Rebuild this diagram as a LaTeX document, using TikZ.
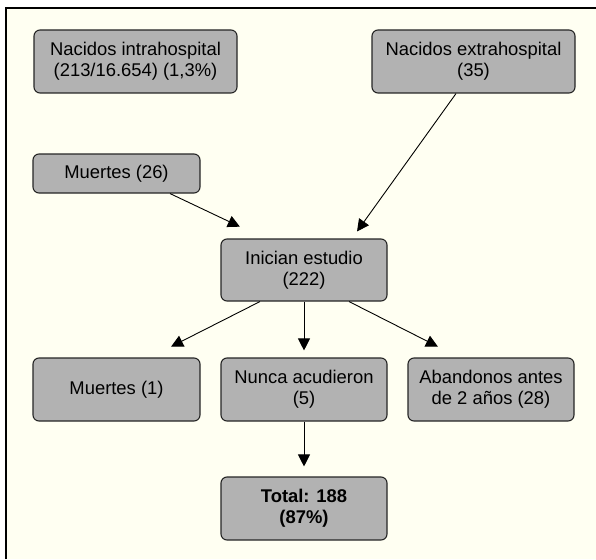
\documentclass[tikz,border=0pt]{standalone}
\usepackage{fontspec}
\setmainfont{Liberation Sans}
\usepackage{tikz}
\usetikzlibrary{arrows.meta}

\definecolor{fondo}{RGB}{255,255,242}
\definecolor{caja}{RGB}{178,178,178}

\begin{document}
\begin{tikzpicture}[x=1pt, y=-1pt,
		box/.style={draw=black!85, line width=1.1pt, fill=caja, rounded corners=6pt, align=center, inner sep=0pt, minimum width=166pt, minimum height=63pt, font=\fontsize{18.4}{21}\selectfont},
		flecha/.style={line width=0.9pt, -{Triangle[length=12pt, width=12pt]}}]
		\useasboundingbox (0,0) rectangle (596,559);
		\fill[white] (0,0) rectangle (596,559);
		\fill[fondo] (6,8) rectangle (596,559);
		\draw[line width=1.5pt] (6,559) -- (6,8) -- (596,8);
		% nodes
		\node[box, minimum width=203pt] (intra) at (135.5,61.5) {Nacidos intrahospital\\(213/16.654) (1,3\%)};
		\node[box, minimum width=203pt] (extra) at (473.5,61.5) {Nacidos extrahospital\\(35)};
		\node[box, minimum width=167pt, minimum height=39pt] (muertesA) at (116.5,173.5) {Muertes (26)};
		\node[box, minimum height=62pt] (inicio) at (304,270) {Inician estudio\\(222)};
		\node[box, minimum width=167pt] (muertesB) at (116.5,389.5) {Muertes (1)};
		\node[box] (nunca) at (304,389.5) {Nunca acudieron\\(5)};
		\node[box] (abandono) at (491,389.5) {Abandonos antes\\de 2 años (28)};
		\node[box] (total) at (304,508.5) {\bfseries Total: 188\\\bfseries (87\%)};
		% arrows
		\draw[flecha, shorten >=27.5pt] ([xshift=53.5pt]muertesA.south) -- ([xshift=-39.3pt]inicio.north);
		\draw[flecha, shorten >=8.6pt] ([xshift=-17.5pt]extra.south) -- ([xshift=48pt]inicio.north);
		\draw[flecha, shorten >=24pt] ([xshift=-44pt]inicio.south) -- ([xshift=33.2pt]muertesB.north);
		\draw[flecha, shorten >=7pt] (inicio.south) -- (nunca.north);
		\draw[flecha, shorten >=24pt] ([xshift=45pt]inicio.south) -- ([xshift=-31.7pt]abandono.north);
		\draw[flecha, shorten >=10pt] (nunca.south) -- (total.north);
	\end{tikzpicture}
\end{document}
